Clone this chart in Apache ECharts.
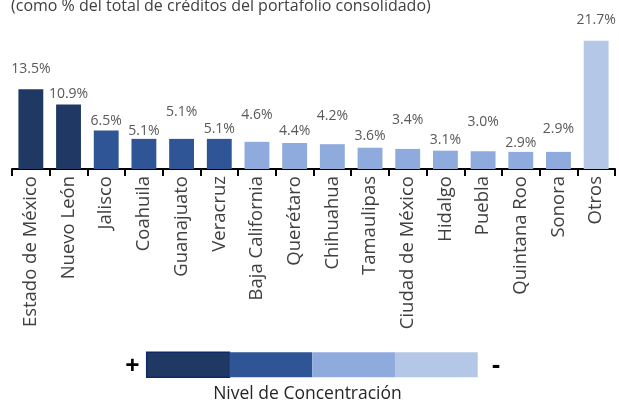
<!DOCTYPE html>
<html>
<head>
<meta charset="utf-8">
<script src="https://cdn.jsdelivr.net/npm/echarts@6/dist/echarts.min.js"></script>
<style>
html,body{margin:0;padding:0;background:#fff;}
#chart{width:619px;height:403px;}
</style>
</head>
<body>
<div id="chart"></div>
<script>
// Data
var categories = ['Estado de México','Nuevo León','Jalisco','Coahuila','Guanajuato','Veracruz','Baja California','Querétaro','Chihuahua','Tamaulipas','Ciudad de México','Hidalgo','Puebla','Quintana Roo','Sonora','Otros'];
var values = [13.5, 10.9, 6.5, 5.1, 5.1, 5.1, 4.6, 4.4, 4.2, 3.6, 3.4, 3.1, 3.0, 2.9, 2.9, 21.7];
var levels = [0, 0, 1, 1, 1, 1, 2, 2, 2, 2, 2, 2, 2, 2, 2, 3];
var titleText = '(como % del total de créditos del portafolio consolidado)';
var legendTitle = 'Nivel de Concentración';

// Styling
var levelColors = ['#203864', '#2F5597', '#8FAADC', '#B4C7E7'];
var labelGap = [13, 4, 3, 1, 20, 3, 20, 5, 21, 5, 22, 4, 22, 2, 16, 14];

var seriesData = values.map(function (v, i) {
  return {
    value: v,
    itemStyle: { color: levelColors[levels[i]] },
    label: { distance: labelGap[i] }
  };
});

var legendX0 = 146.7, legendW = 82.75, legendY = 352.3, legendH = 25;
var graphics = levelColors.map(function (c, i) {
  return {
    type: 'rect',
    shape: { x: legendX0 + i * legendW, y: legendY, width: legendW, height: legendH },
    style: i === 0 ? { fill: c, stroke: '#0E2A66', lineWidth: 1.5 } : { fill: c }
  };
});
graphics.push({
  type: 'text', x: 132.5, y: 367, style: { text: '+', font: 'bold 25px "Open Sans"', fill: '#000', textAlign: 'center', textVerticalAlign: 'middle' }
});
graphics.push({
  type: 'text', x: 496, y: 366, style: { text: '-', font: 'bold 25px "Open Sans"', fill: '#000', textAlign: 'center', textVerticalAlign: 'middle' }
});
graphics.push({
  type: 'text', x: 307.5, y: 394, style: { text: legendTitle, font: '17.5px "Open Sans"', fill: '#262626', textAlign: 'center', textVerticalAlign: 'middle' }
});

var chart = echarts.init(document.getElementById('chart'), null, { renderer: 'canvas' });
chart.setOption({
  animation: false,
  backgroundColor: '#ffffff',
  title: {
    text: titleText,
    left: 11,
    top: -2,
    padding: 0,
    textStyle: { fontFamily: 'Open Sans', fontSize: 16, fontWeight: 'normal', color: '#404040' }
  },
  grid: { left: 12, right: 4, top: 39, bottom: 234, containLabel: false },
  xAxis: {
    type: 'category',
    data: categories,
    boundaryGap: true,
    axisLine: { show: true, lineStyle: { color: '#000', width: 2 } },
    axisTick: { show: true, length: 7, lineStyle: { color: '#000', width: 2 } },
    axisLabel: {
      rotate: 90,
      interval: 0,
      margin: 7,
      fontFamily: 'Open Sans',
      fontSize: 18.5,
      color: '#404040'
    }
  },
  yAxis: {
    type: 'value',
    min: 0,
    max: 22,
    show: false,
    splitLine: { show: false }
  },
  series: [{
    type: 'bar',
    data: seriesData,
    barWidth: '66%',
    label: {
      show: true,
      position: 'top',
      fontFamily: 'Open Sans',
      fontSize: 14,
      color: '#595959',
      formatter: function (p) { return p.value.toFixed(1) + '%'; }
    }
  }],
  graphic: graphics
});
</script>
</body>
</html>
